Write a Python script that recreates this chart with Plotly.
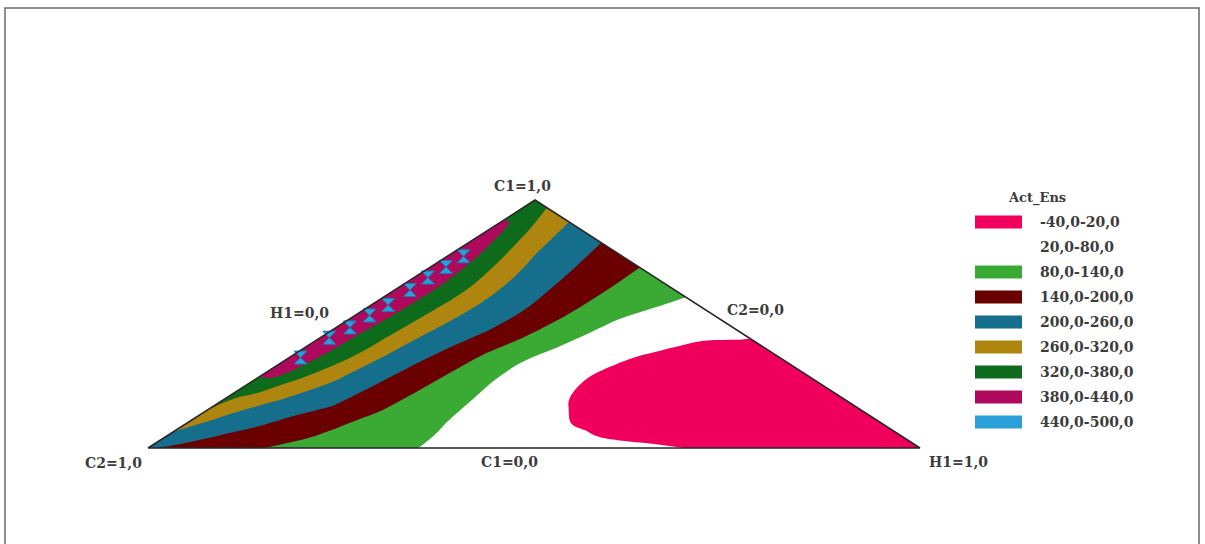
import plotly.graph_objects as go

# ---------------------------------------------------------------------------
# Mixture response surface: Act_Ene over the C1 / C2 / H1 simplex.
# Grid is given in two mixture coordinates:
#   H1_SHARE  - fraction of H1 (0 on the C2-C1 side, 1 at the H1 vertex)
#   C1_SPLIT  - C1 / (C1 + C2)  (0 on the C1=0 side, 1 on the C2=0 side)
# ---------------------------------------------------------------------------
H1_SHARE = [0, 0.012, 0.03, 0.05, 0.08, 0.11, 0.15, 0.2, 0.25, 0.3,
            0.35, 0.4, 0.45, 0.5, 0.55, 0.6, 0.7, 0.8, 0.9, 1.0]
C1_SPLIT = [0, 0.05, 0.1, 0.15, 0.2, 0.3, 0.4, 0.5, 0.6, 0.7, 0.8, 0.9, 1.0]

# one row per C1_SPLIT value, one column per H1_SHARE value
ACT_ENE = [
    [215, 199, 191, 183, 170, 157, 140, 125, 110, 95, 80, 71, 62, 54, 45, 36, 19, 8, -4, -15],
    [250, 240, 225, 208, 190, 176, 157, 134, 116, 97, 79, 69, 58, 48, 38, 27, 10, 0, -8, -15],
    [285, 265, 249, 235, 214, 194, 171, 142, 119, 97, 77, 63, 50, 37, 23, 12, 0, -10, -15, -15],
    [318, 300, 272, 252, 231, 210, 183, 149, 121, 95, 74, 59, 44, 29, 15, 5, -8, -15, -18, -15],
    [340, 318, 298, 276, 250, 230, 203, 160, 123, 94, 71, 54, 37, 19, 8, -2, -15, -20, -20, -15],
    [385, 390, 376, 331, 290, 255, 215, 169, 127, 91, 65, 44, 24, 10, 2, -6, -18, -24, -22, -15],
    [415, 425, 395, 363, 320, 269, 225, 176, 130, 86, 60, 36, 15, 5, -3, -10, -22, -27, -24, -15],
    [428, 436, 405, 370, 330, 279, 234, 189, 135, 86, 58, 33, 10, 0, -8, -15, -25, -28, -25, -15],
    [432, 438, 412, 380, 337, 290, 243, 204, 153, 99, 63, 37, 14, 3, -5, -12, -22, -26, -24, -15],
    [430, 436, 410, 380, 340, 294, 245, 208, 161, 112, 71, 46, 22, 8, 0, -7, -17, -22, -22, -15],
    [418, 420, 395, 365, 320, 277, 238, 200, 160, 120, 80, 55, 32, 14, 5, -2, -12, -18, -19, -15],
    [385, 390, 367, 333, 292, 256, 227, 191, 157, 123, 91, 66, 45, 24, 12, 6, -4, -10, -14, -15],
    [355, 343, 321, 299, 267, 243, 214, 182, 152, 125, 100, 76, 59, 41, 23, 5, 0, -5, -10, -15],
]

# small islands above 440 along the C1-C2 side
SPOT_H1 = [0.015, 0.012, 0.018, 0.019, 0.022, 0.020, 0.018, 0.020, 0.021]
SPOT_C1 = [0.37, 0.45, 0.495, 0.545, 0.59, 0.65, 0.70, 0.745, 0.79]

LEVELS = [-40, 20, 80, 140, 200, 260, 320, 380, 440, 500]
LEVEL_LABELS = ["-40,0-20,0", "20,0-80,0", "80,0-140,0", "140,0-200,0",
                "200,0-260,0", "260,0-320,0", "320,0-380,0", "380,0-440,0",
                "440,0-500,0"]
BAND_COLORS = ["#F0005C", "#FFFFFF", "#3AAA35", "#6B0000", "#146E8C",
               "#AD850F", "#0E6B1B", "#AD0A5E", "#2A9FD8"]

VERTEX_LABELS = {"C1": ("C1=1,0", "C1=0,0"),
                 "C2": ("C2=1,0", "C2=0,0"),
                 "H1": ("H1=1,0", "H1=0,0")}

# ---------------------------------------------------------------------------
# Page geometry (pixel space of the 1205 x 544 page)
# ---------------------------------------------------------------------------
W, H = 1205, 544
VERTEX = {"C2": (148, 448), "H1": (920, 448), "C1": (535, 200)}
FONT = "DejaVu Serif"
TEXT_COLOR = "#3c3c3c"


def to_page(h1, split):
    c1 = (1 - h1) * split
    c2 = (1 - h1) * (1 - split)
    x = c2 * VERTEX["C2"][0] + h1 * VERTEX["H1"][0] + c1 * VERTEX["C1"][0]
    y = c2 * VERTEX["C2"][1] + h1 * VERTEX["H1"][1] + c1 * VERTEX["C1"][1]
    return x, y


grid_x = [[to_page(h, s)[0] for h in H1_SHARE] for s in C1_SPLIT]
grid_y = [[to_page(h, s)[1] for h in H1_SHARE] for s in C1_SPLIT]

# stepped colour scale: one flat colour per 60-unit band
n_bands = len(BAND_COLORS)
colorscale = []
for i, col in enumerate(BAND_COLORS):
    colorscale.append([i / n_bands, col])
    colorscale.append([(i + 1) / n_bands, col])

hidden_axis = dict(showgrid=False, showline=False, showticklabels="none",
                   startline=False, endline=False, minorgridcount=0,
                   gridcolor="rgba(0,0,0,0)", linecolor="rgba(0,0,0,0)",
                   smoothing=0)

fig = go.Figure()

fig.add_trace(go.Carpet(
    carpet="simplex", a=H1_SHARE, b=C1_SPLIT, x=grid_x, y=grid_y,
    aaxis=hidden_axis, baxis=hidden_axis,
))

fig.add_trace(go.Contourcarpet(
    carpet="simplex", a=H1_SHARE, b=C1_SPLIT, z=ACT_ENE,
    autocontour=False,
    contours=dict(start=LEVELS[0], end=LEVELS[-1], size=LEVELS[1] - LEVELS[0],
                  coloring="fill", showlines=False),
    colorscale=colorscale, zmin=LEVELS[0], zmax=LEVELS[-1],
    showscale=False, line=dict(width=0, smoothing=1.0),
))

fig.add_trace(go.Scattercarpet(
    carpet="simplex", a=SPOT_H1, b=SPOT_C1, mode="markers",
    marker=dict(symbol="hourglass", size=13, color=BAND_COLORS[8],
                line=dict(width=1, color="#1d78b0")),
    hoverinfo="skip",
))

# triangle outline
order = ["C2", "H1", "C1", "C2"]
fig.add_trace(go.Scatter(
    x=[VERTEX[k][0] for k in order], y=[VERTEX[k][1] for k in order],
    mode="lines", line=dict(color="#262626", width=1.5), hoverinfo="skip",
))

annotations = []


def label(text, x, y, size=14, xanchor="center"):
    annotations.append(dict(
        text=text, x=x, y=y, xref="x", yref="y", showarrow=False,
        xanchor=xanchor, yanchor="middle",
        font=dict(family=FONT, size=size, color=TEXT_COLOR, weight="bold"),
    ))


# vertex labels (=1,0) and opposite-side labels (=0,0)
label(VERTEX_LABELS["C1"][0], VERTEX["C1"][0] - 13, VERTEX["C1"][1] - 14)
label(VERTEX_LABELS["C2"][0], VERTEX["C2"][0] - 35, VERTEX["C2"][1] + 15)
label(VERTEX_LABELS["H1"][0], VERTEX["H1"][0] + 38, VERTEX["H1"][1] + 14)
label(VERTEX_LABELS["C1"][1], (VERTEX["C2"][0] + VERTEX["H1"][0]) / 2 - 25,
      VERTEX["C2"][1] + 14)
label(VERTEX_LABELS["H1"][1], (VERTEX["C2"][0] + VERTEX["C1"][0]) / 2 - 42,
      (VERTEX["C2"][1] + VERTEX["C1"][1]) / 2 - 11)
label(VERTEX_LABELS["C2"][1], (VERTEX["C1"][0] + VERTEX["H1"][0]) / 2 + 28,
      (VERTEX["C1"][1] + VERTEX["H1"][1]) / 2 - 14)

# legend
shapes = []
LEG_X0, LEG_X1, LEG_TEXT_X = 975, 1022, 1038
LEG_Y0, LEG_STEP, LEG_H = 222, 25, 13
label("Act_Ens", 1037, 198, size=13)
for i, (txt, col) in enumerate(zip(LEVEL_LABELS, BAND_COLORS)):
    yc = LEG_Y0 + i * LEG_STEP
    shapes.append(dict(type="rect", xref="x", yref="y",
                       x0=LEG_X0, x1=LEG_X1, y0=yc - LEG_H / 2, y1=yc + LEG_H / 2,
                       fillcolor=col, line=dict(width=0)))
    label(txt, LEG_TEXT_X, yc, size=14, xanchor="left")

# page frame
shapes.append(dict(type="rect", xref="x", yref="y", x0=5, x1=1199, y0=8, y1=560,
                   line=dict(color="#6a6a6a", width=1.5), fillcolor="rgba(0,0,0,0)"))

fig.update_layout(
    width=W, height=H, margin=dict(l=0, r=0, t=0, b=0),
    paper_bgcolor="white", plot_bgcolor="white", showlegend=False,
    xaxis=dict(range=[0, W], visible=False, fixedrange=True),
    yaxis=dict(range=[H, 0], visible=False, fixedrange=True),
    annotations=annotations, shapes=shapes,
)

fig.write_html("out.html")
